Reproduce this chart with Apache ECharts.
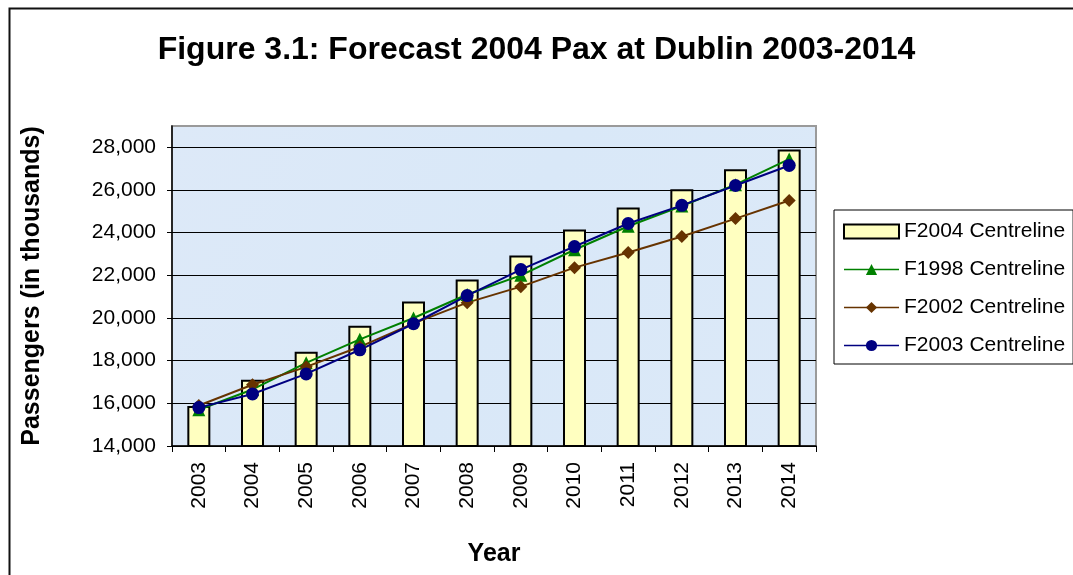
<!DOCTYPE html>
<html>
<head>
<meta charset="utf-8">
<script src="https://cdn.jsdelivr.net/npm/echarts@6/dist/echarts.min.js"></script>
<style>
    html, body { margin: 0; padding: 0; background: #fff; }
    #main { width: 1073px; height: 575px; }
</style>
</head>
<body>
<div id="main"></div>
<script>
var years = ['2003', '2004', '2005', '2006', '2007', '2008', '2009', '2010', '2011', '2012', '2013', '2014'];
var f2004 = [15880, 17100, 18420, 19640, 20770, 21800, 22930, 24150, 25180, 26030, 26970, 27900];
var f1998 = [15700, 16650, 17900, 19000, 20000, 21100, 22000, 23200, 24300, 25250, 26250, 27450];
var f2002 = [15900, 16870, 17710, 18650, 19750, 20720, 21470, 22360, 23070, 23820, 24660, 25510];
var f2003 = [15800, 16440, 17380, 18510, 19730, 21050, 22270, 23350, 24430, 25280, 26210, 27150];
var yMin = 14000, yMax = 29000, yStep = 2000;

(function () {
    var chart = echarts.init(document.getElementById('main'));
    var font = 'Arial, "Liberation Sans", sans-serif';

    var option = {
        animation: false,
        textStyle: { fontFamily: font },
        title: {
            text: 'Figure 3.1: Forecast 2004 Pax at Dublin 2003-2014',
            left: 'center',
            top: 29,
            textStyle: { fontSize: 32, fontWeight: 'bold', color: '#000', fontFamily: font }
        },
        graphic: [{
            // outer chart frame
            type: 'rect',
            left: 7,
            top: 6,
            shape: { width: 1090, height: 600 },
            style: { fill: 'none', stroke: '#111', lineWidth: 2 },
            silent: true
        }],
        legend: {
            orient: 'vertical',
            left: 834,
            top: 210,
            padding: [11, 8, 8, 9],
            borderColor: '#000',
            borderWidth: 1,
            itemWidth: 55,
            itemHeight: 14,
            itemGap: 17,
            lineStyle: { width: 1.5 },
            textStyle: { fontSize: 21, color: '#000', lineHeight: 21 },
            data: [
                { name: 'F2004 Centreline', icon: 'rect' },
                'F1998 Centreline',
                'F2002 Centreline',
                'F2003 Centreline'
            ]
        },
        grid: {
            left: 172,
            right: 257,
            top: 126,
            bottom: 129,
            show: true,
            backgroundColor: new echarts.graphic.LinearGradient(0, 0, 1, 1, [
                { offset: 0, color: '#dde9f8' },
                { offset: 0.5, color: '#d9e8f8' },
                { offset: 1, color: '#dce9f8' }
            ]),
            borderColor: '#9a9a9a',
            borderWidth: 2
        },
        xAxis: {
            type: 'category',
            data: years,
            name: 'Year',
            nameLocation: 'middle',
            nameGap: 96,
            nameTextStyle: { fontSize: 25, fontWeight: 'bold', color: '#000' },
            axisLine: { lineStyle: { color: '#000', width: 1.5 } },
            axisTick: { show: true, alignWithLabel: false, length: 6, lineStyle: { color: '#000' } },
            axisLabel: { rotate: 90, margin: 16, fontSize: 21, color: '#000' }
        },
        yAxis: {
            type: 'value',
            min: yMin,
            max: yMax,
            interval: yStep,
            name: 'Passengers (in thousands)',
            nameLocation: 'middle',
            nameGap: 127,
            nameTextStyle: { fontSize: 25, fontWeight: 'bold', color: '#000' },
            axisLine: { show: true, lineStyle: { color: '#000', width: 1.5 } },
            axisTick: { show: true, length: 5, lineStyle: { color: '#000' } },
            axisLabel: {
                margin: 16,
                fontSize: 21,
                color: '#000',
                showMaxLabel: false,
                formatter: function (v) {
                    return v > 28000 ? '' : v.toLocaleString('en-US');
                }
            },
            splitLine: { show: true, showMaxLine: false, lineStyle: { color: '#000', width: 1 } }
        },
        series: [{
                name: 'F2004 Centreline',
                type: 'bar',
                barWidth: 23,
                itemStyle: { color: '#ffffc0', borderColor: '#000', borderWidth: 2 },
                data: f2004
            },
            {
                name: 'F1998 Centreline',
                type: 'line',
                symbol: 'triangle',
                symbolSize: 13,
                color: '#008000',
                lineStyle: { width: 2, color: '#008000' },
                itemStyle: { color: '#008000' },
                data: f1998
            },
            {
                name: 'F2002 Centreline',
                type: 'line',
                symbol: 'diamond',
                symbolSize: 13,
                color: '#663300',
                lineStyle: { width: 2, color: '#663300' },
                itemStyle: { color: '#663300' },
                data: f2002
            },
            {
                name: 'F2003 Centreline',
                type: 'line',
                symbol: 'circle',
                symbolSize: 13,
                color: '#000080',
                lineStyle: { width: 2, color: '#000080' },
                itemStyle: { color: '#000080' },
                data: f2003
            }
        ]
    };
    chart.setOption(option);
})();
</script>
</body>
</html>
